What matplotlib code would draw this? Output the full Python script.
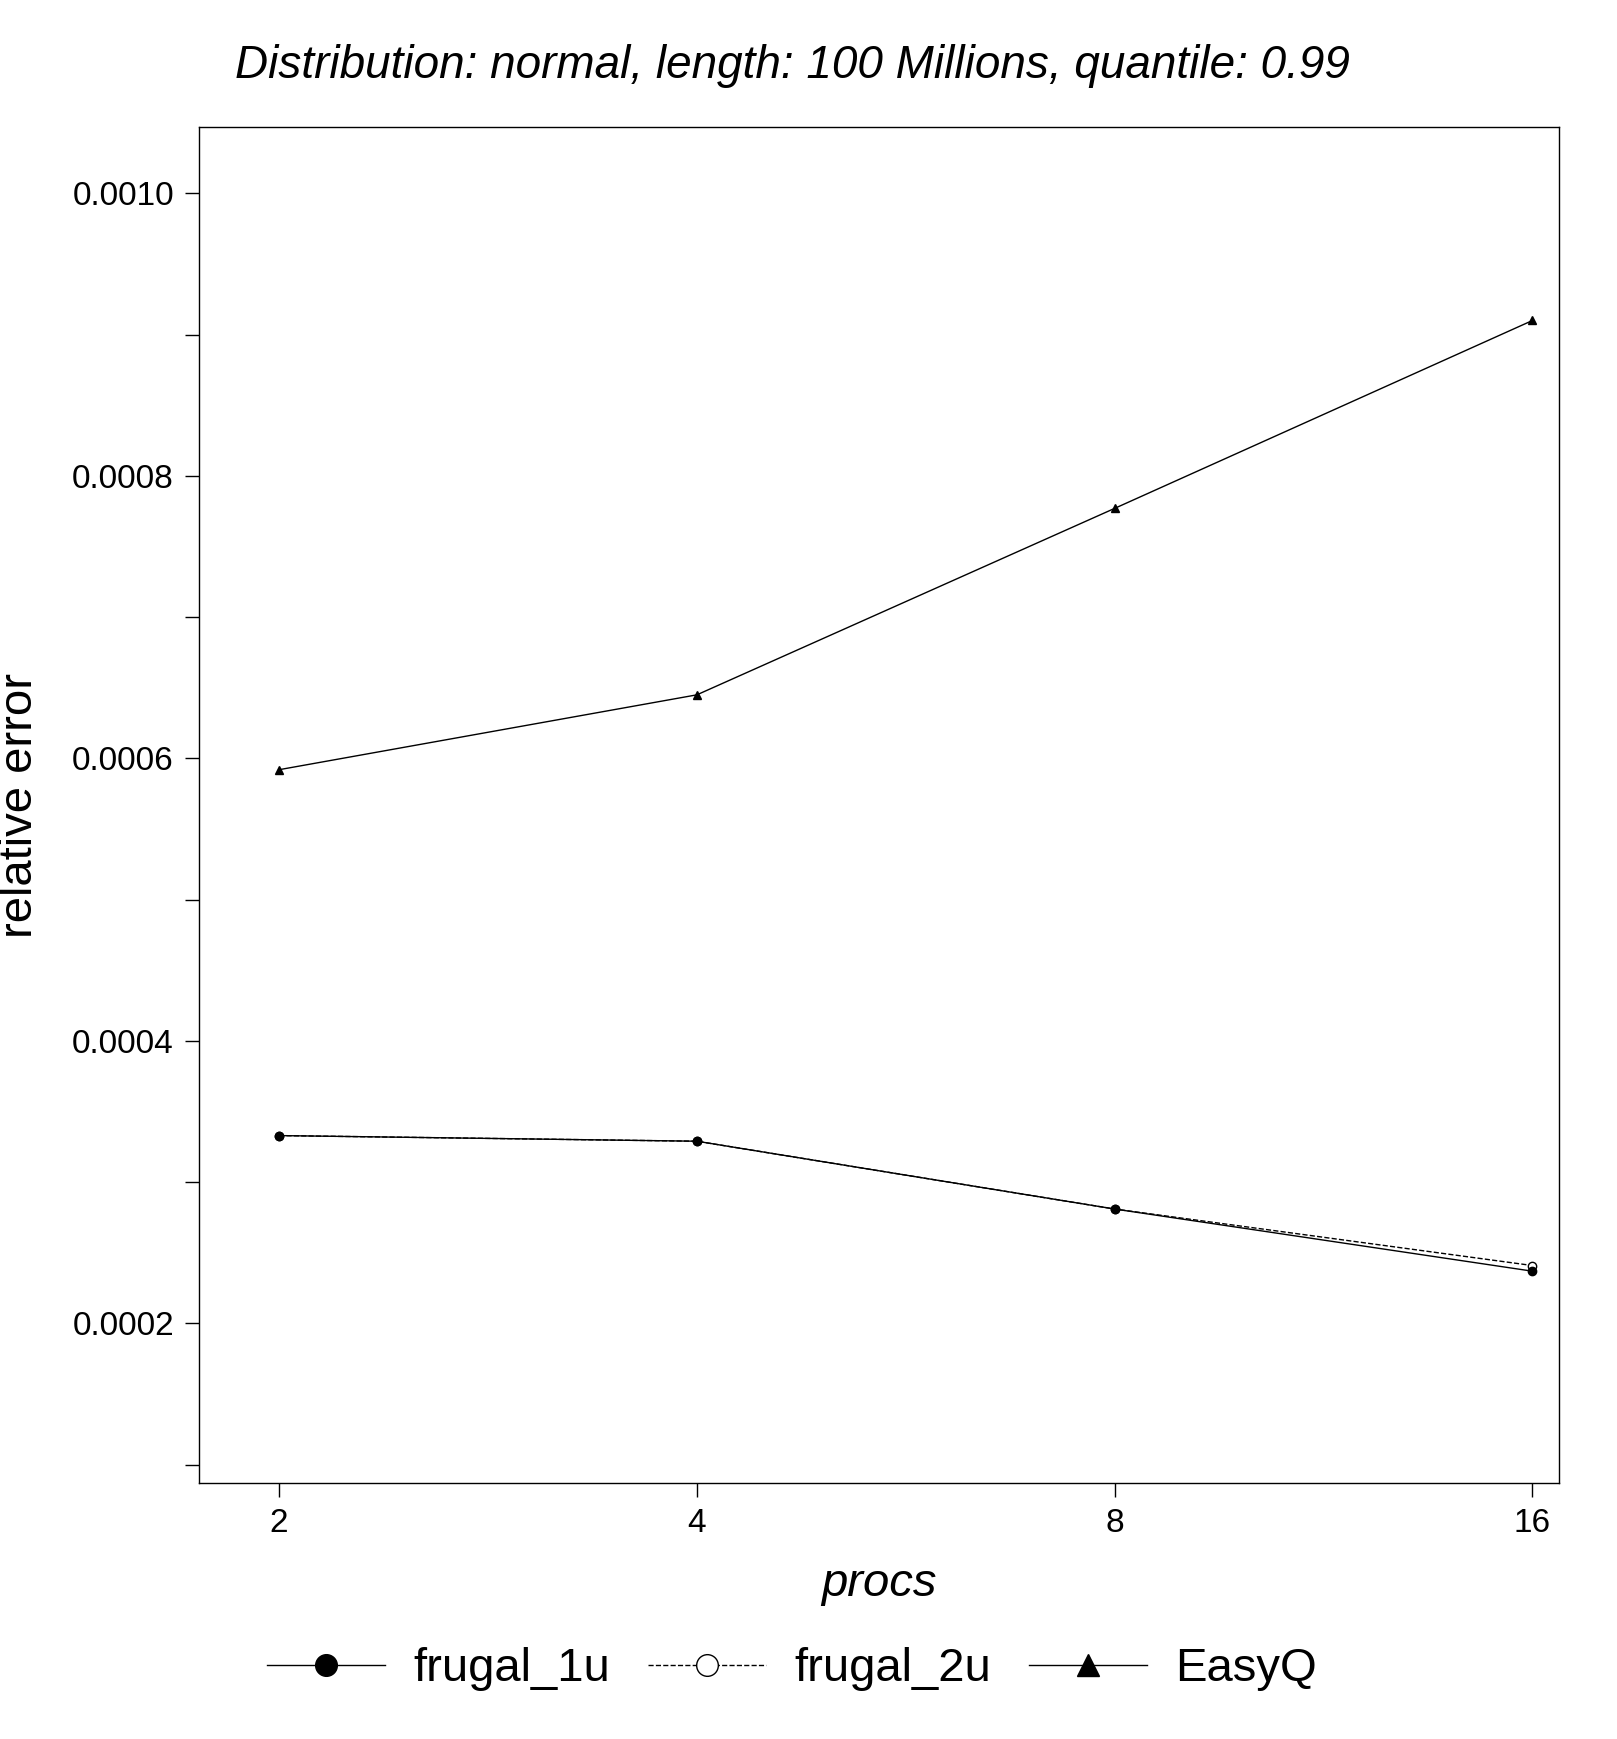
import matplotlib
matplotlib.use("Agg")
import matplotlib.pyplot as plt
from matplotlib.ticker import FixedLocator, NullFormatter

procs = [2, 4, 8, 16]
frugal_1u = [0.000333, 0.000329, 0.000281, 0.000237]
frugal_2u = [0.000333, 0.000329, 0.000281, 0.000241]
easyq = [0.000592, 0.000645, 0.000777, 0.000910]
yticks = [0.0002, 0.0004, 0.0006, 0.0008, 0.0010]
yticklabels = ["0.0002", "0.0004", "0.0006", "0.0008", "0.0010"]

plt.rcParams['font.family'] = ['Liberation Sans', 'DejaVu Sans']
fig = plt.figure(figsize=(16.17, 17.39), dpi=100)
ax = fig.add_axes([0.123, 0.147, 0.841, 0.780])
ax.set_xscale('log', base=2)
l2, = ax.plot(procs, frugal_2u, '--', color='black', lw=1, marker='o', ms=6, mfc='white', label='frugal_2u', zorder=2)
l1, = ax.plot(procs, frugal_1u, '-', color='black', lw=1, marker='o', ms=6, label='frugal_1u', zorder=3)
l3, = ax.plot(procs, easyq, '-', color='black', lw=1, marker='^', ms=6, label='EasyQ', zorder=3)
ax.set_xlim(2 ** 0.808, 2 ** 4.063)
ax.set_ylim(0.0000868, 0.001047)
ax.xaxis.set_major_locator(FixedLocator(procs))
ax.set_xticklabels([str(p) for p in procs])
ax.xaxis.set_minor_locator(FixedLocator([]))
ax.set_yticks(yticks)
ax.set_yticklabels(yticklabels)
ax.yaxis.set_minor_locator(FixedLocator([0.0001, 0.0003, 0.0005, 0.0007, 0.0009]))
ax.yaxis.set_minor_formatter(NullFormatter())
ax.tick_params(which='both', direction='out', length=10, width=1, labelsize=24, top=False, right=False)
ax.tick_params(axis='both', pad=8)
for s in ax.spines.values():
    s.set_linewidth(1)
ax.set_xlabel('procs', fontsize=34, style='italic', labelpad=16)
ax.set_ylabel('relative error', fontsize=34, labelpad=22)
fig.text(0.49, 0.962, 'Distribution: normal, length: 100 Millions, quantile: 0.99', fontsize=33,
         style='italic', ha='center', va='center')
fig.legend([l1, l2, l3], ['frugal_1u', 'frugal_2u', 'EasyQ'], loc='center', bbox_to_anchor=(0.49, 0.04), ncol=3,
           frameon=False, fontsize=34, handlelength=2.5, markerscale=2.6, columnspacing=0.8, handletextpad=0.6)
fig.savefig('out.png', dpi=100)
